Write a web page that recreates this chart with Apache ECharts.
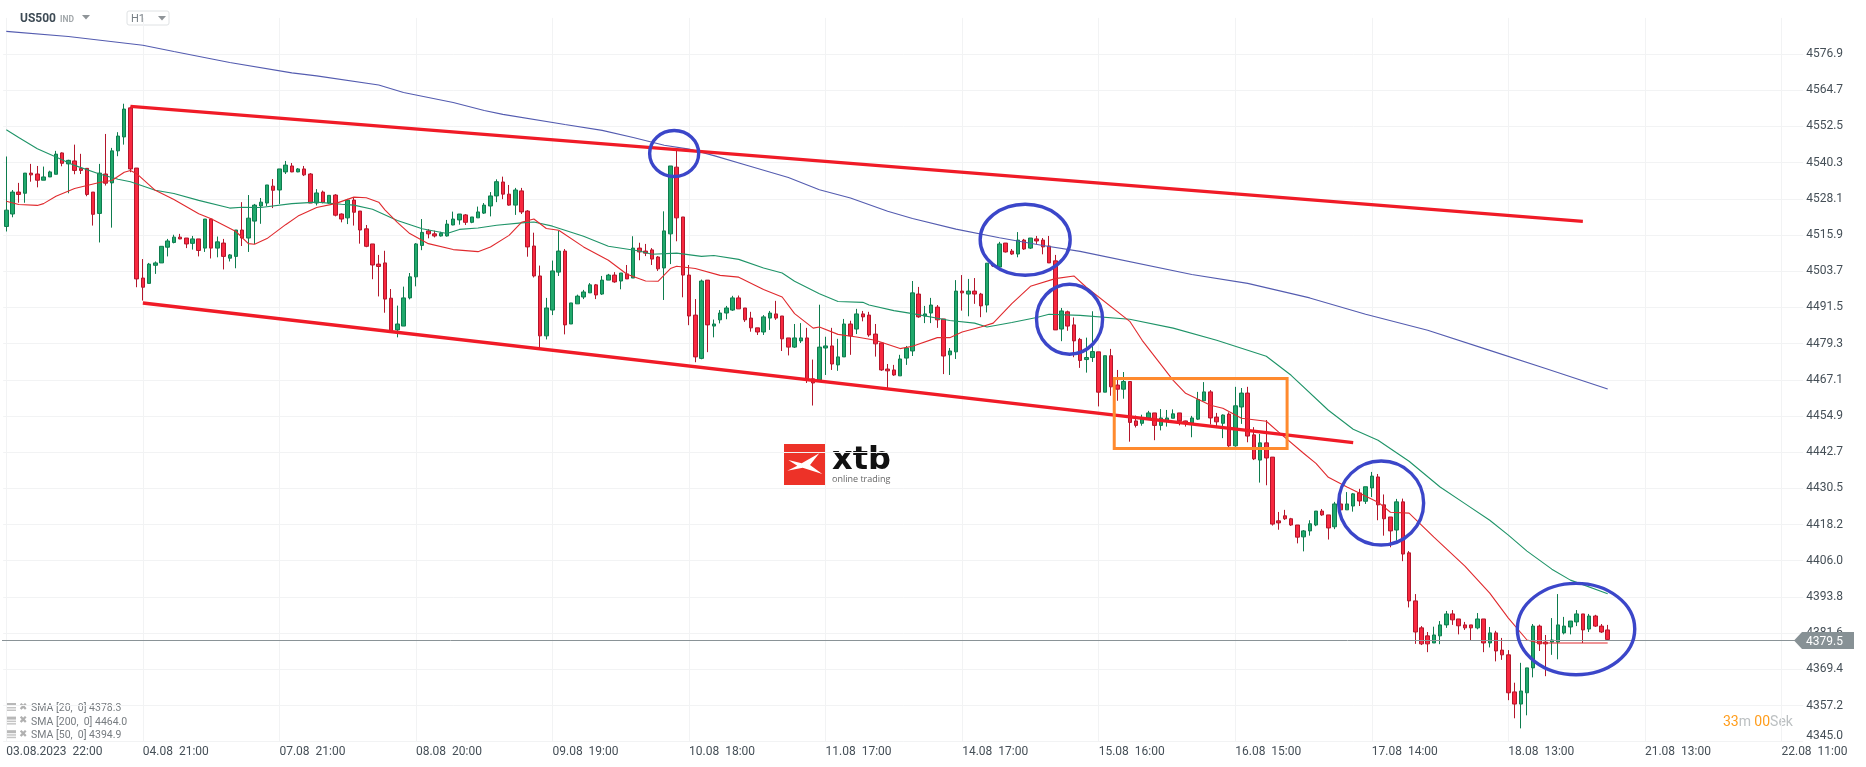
<!DOCTYPE html>
<html><head><meta charset="utf-8">
<style>html,body{margin:0;padding:0;background:#fff;overflow:hidden}#c{width:1866px;height:767px}</style>
<script src="https://cdn.jsdelivr.net/npm/echarts@6/dist/echarts.min.js"></script>
</head><body><div id="c"></div>
<script>
const tickLabels=['03.08.2023  22:00','04.08  21:00','07.08  21:00','08.08  20:00','09.08  19:00','10.08  18:00','11.08  17:00','14.08  17:00','15.08  16:00','16.08  15:00','17.08  14:00','18.08  13:00','21.08  13:00','22.08  11:00'];
// [open, close, high, low]
const candles=[
[4518.8,4524.3,4542.4,4517.1],[4523.0,4530.4,4531.1,4521.9],[4530.4,4529.6,4533.5,4526.8],[4530.0,4536.8,4536.8,4526.8],[4536.8,4536.2,4539.9,4533.9],
[4536.5,4534.4,4539.2,4532.0],[4534.4,4535.5,4539.0,4534.4],[4535.5,4537.2,4537.6,4535.5],[4536.4,4543.2,4544.3,4536.4],[4543.6,4540.1,4543.8,4539.1],
[4539.9,4541.1,4541.3,4530.0],[4540.9,4537.7,4546.4,4536.4],[4538.4,4537.7,4543.3,4536.5],[4538.4,4529.6,4538.4,4529.0],[4530.4,4522.9,4530.4,4519.1],
[4523.2,4536.8,4539.9,4513.4],[4536.5,4533.4,4550.0,4532.6],[4533.5,4544.3,4545.3,4518.4],[4544.3,4549.3,4550.6,4542.5],[4549.0,4558.4,4560.2,4546.4],
[4558.8,4538.2,4559.2,4537.1],[4538.5,4501.1,4538.5,4498.3],[4501.4,4498.3,4507.8,4493.8],[4499.6,4506.1,4506.5,4499.6],[4505.7,4506.5,4507.0,4502.8],
[4506.5,4512.1,4512.1,4506.5],[4511.8,4513.9,4514.6,4508.7],[4513.4,4515.2,4516.0,4513.1],[4515.2,4514.6,4516.3,4514.5],[4514.9,4512.9,4514.9,4511.5],
[4513.1,4514.6,4515.6,4511.0],[4514.6,4510.7,4514.6,4508.7],[4511.5,4521.3,4521.3,4510.2],[4521.3,4511.5,4521.6,4508.0],[4511.5,4513.6,4515.4,4508.4],
[4513.2,4508.7,4514.6,4504.3],[4508.1,4509.2,4509.5,4507.0],[4508.7,4517.6,4517.6,4504.7],[4517.6,4514.9,4527.0,4512.2],[4514.9,4521.6,4529.4,4510.2],
[4520.6,4526.0,4526.4,4512.9],[4525.7,4527.0,4528.4,4519.7],[4526.7,4532.8,4532.8,4525.7],[4532.4,4531.0,4534.8,4525.0],[4531.1,4538.2,4538.2,4526.4],
[4537.2,4539.5,4540.9,4536.5],[4539.2,4537.2,4540.2,4537.1],[4537.2,4538.2,4538.5,4537.1],[4538.2,4536.2,4539.2,4535.8],[4536.5,4526.7,4536.8,4526.7],
[4526.7,4530.1,4531.4,4525.9],[4530.4,4526.9,4530.9,4526.6],[4526.7,4529.3,4529.3,4526.4],[4529.4,4522.6,4529.7,4522.2],[4523.0,4521.3,4523.2,4520.2],
[4521.7,4527.7,4528.1,4519.6],[4527.7,4523.6,4528.4,4519.1],[4524.0,4517.6,4524.0,4513.0],[4518.0,4512.1,4519.3,4511.8],[4512.9,4505.8,4512.9,4501.0],
[4506.1,4505.3,4509.2,4495.2],[4506.5,4494.3,4510.6,4489.7],[4494.6,4483.7,4497.7,4482.9],[4483.9,4485.9,4492.1,4481.4],[4485.2,4494.7,4498.5,4485.2],
[4494.7,4501.8,4503.1,4494.2],[4501.8,4512.9,4513.2,4498.6],[4512.4,4516.8,4521.3,4510.8],[4517.3,4516.3,4517.9,4514.8],[4516.3,4515.6,4517.4,4515.1],
[4515.6,4516.5,4517.0,4515.4],[4515.6,4519.6,4521.0,4515.4],[4519.3,4521.3,4523.8,4519.2],[4521.0,4523.0,4523.0,4519.4],[4522.7,4520.2,4523.0,4519.3],
[4520.2,4522.0,4522.0,4519.9],[4521.7,4523.7,4525.5,4521.7],[4523.3,4526.0,4526.7,4523.0],[4525.7,4529.1,4530.4,4522.2],[4529.1,4533.9,4534.7,4527.0],
[4533.8,4529.7,4535.6,4528.0],[4529.7,4526.0,4532.8,4525.8],[4526.0,4531.1,4531.8,4522.7],[4530.8,4523.7,4531.8,4523.0],[4524.0,4511.9,4524.3,4508.6],
[4512.2,4502.1,4516.7,4501.6],[4502.1,4481.9,4505.6,4477.5],[4481.9,4491.3,4494.7,4480.7],[4490.6,4503.8,4507.3,4488.9],[4503.4,4510.5,4517.3,4502.1],
[4510.5,4485.6,4511.2,4482.4],[4485.9,4493.0,4493.0,4485.9],[4492.7,4495.3,4495.8,4492.7],[4495.0,4496.7,4497.4,4494.3],[4496.4,4499.1,4499.7,4496.4],
[4499.1,4495.7,4499.4,4494.3],[4496.0,4500.7,4502.1,4495.7],[4500.7,4502.4,4502.8,4500.7],[4502.4,4500.1,4503.4,4499.8],[4500.4,4503.1,4503.1,4497.6],
[4502.8,4501.1,4505.8,4501.1],[4501.4,4511.5,4515.5,4501.4],[4511.5,4510.2,4513.3,4507.4],[4510.5,4509.8,4512.9,4508.8],[4510.9,4507.8,4511.5,4505.8],
[4508.5,4504.5,4508.8,4503.8],[4504.8,4517.3,4523.9,4494.0],[4516.3,4539.2,4539.2,4506.1],[4538.8,4521.7,4544.4,4513.8],[4522.0,4502.4,4522.0,4494.9],
[4502.4,4488.6,4505.8,4485.5],[4488.9,4474.8,4494.3,4473.0],[4474.3,4500.4,4500.9,4474.0],[4500.7,4485.6,4500.7,4476.4],[4485.2,4485.9,4487.4,4481.4],
[4487.3,4489.6,4490.6,4486.1],[4489.6,4491.3,4492.0,4487.5],[4490.6,4494.7,4495.4,4490.3],[4494.7,4491.0,4495.5,4491.0],[4491.3,4487.3,4491.3,4486.6],
[4487.9,4484.6,4490.0,4483.3],[4484.6,4483.2,4484.6,4482.2],[4483.2,4488.3,4488.9,4482.2],[4487.9,4489.6,4490.3,4483.9],[4489.3,4487.9,4493.7,4487.3],
[4488.6,4480.9,4488.6,4476.8],[4481.2,4478.1,4481.2,4475.3],[4478.1,4481.2,4485.9,4477.8],[4480.2,4481.2,4486.2,4479.5],[4481.2,4467.4,4484.6,4466.0],
[4467.4,4466.0,4473.9,4458.4],[4467.0,4478.1,4492.4,4467.0],[4477.8,4478.5,4481.6,4468.7],[4478.5,4472.4,4484.6,4470.4],[4472.1,4474.8,4480.9,4470.1],
[4474.8,4485.9,4487.6,4474.8],[4485.9,4481.9,4487.0,4475.5],[4484.2,4489.3,4491.0,4482.5],[4489.3,4488.3,4490.3,4486.8],[4488.9,4482.2,4490.0,4481.6],
[4482.5,4479.2,4485.9,4474.9],[4479.5,4470.4,4479.5,4470.1],[4470.7,4470.1,4472.4,4464.0],[4470.4,4468.7,4472.1,4468.4],[4468.4,4474.1,4475.5,4468.4],
[4474.4,4477.8,4478.5,4472.1],[4476.8,4496.4,4500.4,4475.1],[4496.0,4488.3,4498.4,4488.0],[4488.6,4489.3,4492.0,4486.2],[4489.6,4492.3,4494.7,4486.2],
[4491.6,4487.3,4492.3,4484.6],[4487.6,4475.1,4487.6,4469.0],[4475.5,4476.8,4477.8,4468.7],[4476.5,4497.0,4500.7,4474.1],[4497.0,4496.4,4502.4,4490.4],
[4496.0,4497.0,4501.1,4488.5],[4497.0,4496.0,4501.4,4492.7],[4496.0,4492.0,4496.4,4488.2],[4492.3,4506.4,4506.4,4489.8],[4506.1,4505.5,4506.7,4505.2],
[4505.1,4512.9,4513.6,4505.1],[4513.2,4510.2,4513.2,4510.0],[4510.5,4509.5,4511.2,4509.2],[4509.5,4514.2,4516.9,4508.4],[4514.2,4511.2,4514.6,4510.9],
[4511.5,4514.9,4514.9,4511.2],[4514.6,4513.9,4515.6,4512.9],[4514.2,4511.9,4514.9,4509.4],[4512.2,4506.5,4515.6,4506.5],[4507.2,4483.9,4509.2,4483.9],
[4484.2,4490.3,4491.3,4480.1],[4490.0,4485.2,4490.4,4483.6],[4485.6,4480.2,4488.1,4474.7],[4480.7,4473.6,4481.2,4471.1],[4473.9,4474.6,4481.3,4469.5],
[4474.6,4476.6,4490.2,4473.1],[4476.5,4462.9,4476.5,4458.1],[4462.9,4475.2,4475.2,4462.9],[4475.2,4464.7,4477.5,4461.7],[4465.3,4463.9,4470.4,4460.0],
[4463.9,4466.5,4469.7,4460.7],[4466.5,4452.7,4466.5,4446.2],[4453.2,4451.7,4455.0,4451.0],[4452.4,4454.2,4455.3,4451.6],[4454.2,4455.9,4456.6,4454.2],
[4455.9,4451.7,4455.9,4446.7],[4451.7,4454.2,4457.2,4450.0],[4453.3,4454.2,4456.9,4451.3],[4454.1,4455.6,4457.1,4454.1],[4455.9,4453.2,4455.9,4451.7],
[4453.2,4452.5,4453.3,4451.3],[4452.5,4454.2,4454.9,4447.7],[4453.8,4460.4,4463.0,4453.5],[4460.0,4463.0,4466.3,4460.0],[4463.0,4454.2,4463.6,4452.0],
[4454.5,4452.9,4455.9,4450.8],[4452.4,4455.2,4455.4,4447.4],[4455.5,4444.8,4456.1,4444.3],[4444.8,4458.3,4464.7,4444.5],[4457.9,4462.6,4464.3,4452.2],
[4462.6,4448.1,4464.7,4446.0],[4448.5,4440.4,4451.1,4440.0],[4440.0,4445.8,4448.8,4432.4],[4445.8,4440.7,4453.5,4431.5],[4441.0,4418.4,4441.0,4417.9],
[4419.5,4418.8,4422.5,4416.5],[4421.2,4420.2,4423.2,4419.8],[4420.2,4418.1,4420.5,4417.8],[4418.1,4414.0,4418.1,4411.9],[4414.1,4416.1,4416.4,4409.2],
[4416.1,4418.5,4419.7,4414.5],[4418.1,4422.8,4422.8,4417.7],[4422.8,4421.5,4423.5,4421.2],[4421.5,4417.1,4421.5,4413.2],[4417.5,4425.2,4425.9,4416.7],
[4425.2,4423.2,4430.3,4422.8],[4423.2,4425.2,4429.2,4423.2],[4424.5,4428.6,4428.9,4422.6],[4428.9,4426.2,4430.3,4424.5],[4426.1,4431.0,4431.0,4425.2],
[4430.6,4434.6,4436.0,4427.5],[4434.3,4424.9,4435.3,4419.7],[4424.9,4420.2,4428.4,4414.5],[4420.8,4416.1,4420.8,4410.6],[4416.4,4425.9,4426.9,4412.8],
[4425.9,4408.3,4427.0,4405.9],[4408.7,4392.5,4409.3,4390.3],[4392.5,4382.0,4394.8,4378.0],[4383.4,4378.0,4384.0,4377.6],[4380.7,4378.0,4382.0,4375.2],
[4378.3,4381.0,4383.8,4378.3],[4380.7,4384.4,4385.7,4377.9],[4384.4,4388.1,4389.1,4383.4],[4388.1,4386.1,4389.4,4384.4],[4386.4,4384.1,4386.4,4381.2],
[4384.4,4383.4,4385.4,4382.7],[4384.4,4383.4,4384.4,4379.1],[4383.4,4386.4,4388.4,4382.9],[4386.4,4378.3,4386.4,4375.2],[4378.3,4381.7,4383.7,4376.8],
[4381.7,4375.6,4382.4,4372.1],[4375.9,4374.3,4380.0,4372.6],[4374.3,4361.5,4375.9,4359.0],[4361.8,4357.7,4364.9,4352.9],[4357.7,4362.1,4371.6,4349.5],
[4361.5,4369.9,4369.9,4353.9],[4369.9,4384.0,4384.7,4366.7],[4384.0,4378.0,4384.5,4375.6],[4378.6,4378.0,4381.0,4367.1],[4378.6,4379.3,4386.7,4374.3],
[4378.6,4384.4,4394.8,4372.8],[4381.7,4384.0,4387.1,4381.2],[4383.7,4385.7,4385.7,4381.2],[4385.4,4388.1,4389.4,4384.0],[4388.1,4382.7,4388.1,4378.3],
[4383.0,4387.4,4388.1,4382.0],[4387.4,4384.0,4387.8,4383.7],[4384.0,4382.0,4384.7,4381.7],[4382.7,4379.5,4384.4,4379.0]
];
const sma200=[[0,4584.6],[10,4582.9],[22,4579.9],[27,4577.8],[36,4574.1],[46,4570.6],[50,4569.6],[60,4566.5],[64,4564.0],[72,4560.6],[77,4557.9],[80,4556.6],[90,4553.2],[96,4551.2],[101,4548.8],[106,4546.2],[110,4544.9],[114,4542.7],[119,4539.6],[126,4535.3],[131,4531.2],[136,4528.4],[142,4523.9],[146,4521.5],[153,4517.9],[160,4515.0],[167,4512.4],[173,4510.4],[191,4502.6],[200,4499.6],[210,4494.7],[219,4489.2],[229,4483.8],[239,4477.0],[248,4470.9],[258,4464.0]];
const sma50=[[0,4551.4],[2,4548.8],[5,4545.0],[8,4542.2],[11,4539.4],[15,4536.5],[18,4534.7],[20,4533.9],[24,4531.0],[27,4529.9],[31,4527.6],[36,4525.0],[38,4525.3],[41,4525.2],[46,4526.5],[50,4527.0],[54,4526.3],[56,4526.0],[59,4524.6],[63,4520.8],[67,4518.0],[71,4516.4],[73,4517.8],[76,4518.3],[79,4519.2],[83,4520.0],[85,4520.3],[88,4518.9],[93,4515.5],[97,4512.1],[102,4510.5],[104,4509.4],[108,4509.8],[112,4508.7],[114,4509.0],[118,4507.7],[122,4504.8],[125,4503.1],[127,4500.3],[131,4496.1],[134,4493.5],[138,4493.2],[139,4492.3],[143,4490.4],[146,4489.4],[152,4487.1],[156,4486.2],[158,4484.9],[162,4486.4],[166,4488.1],[168,4489.2],[173,4488.8],[181,4487.5],[188,4484.5],[195,4480.4],[199,4477.7],[203,4475.0],[207,4468.6],[213,4456.8],[217,4450.4],[221,4446.7],[226,4439.6],[231,4430.9],[235,4425.3],[239,4419.7],[242,4414.7],[245,4409.3],[249,4403.2],[252,4399.5],[258,4394.9]];
const sma20=[[0,4527.3],[2,4526.2],[5,4525.9],[6,4526.5],[8,4529.0],[11,4531.6],[15,4533.6],[17,4534.3],[19,4537.1],[20,4537.7],[21,4536.6],[24,4531.0],[27,4527.9],[31,4523.1],[33,4521.4],[37,4517.1],[39,4513.0],[40,4512.8],[42,4514.7],[45,4519.4],[47,4522.3],[50,4525.2],[53,4526.5],[56,4528.7],[58,4528.5],[60,4527.0],[61,4524.4],[63,4520.2],[65,4516.4],[68,4513.0],[72,4511.0],[76,4510.3],[78,4511.9],[81,4515.8],[83,4520.2],[85,4521.3],[87,4518.1],[89,4517.5],[93,4511.9],[97,4507.4],[100,4502.7],[103,4500.4],[105,4500.3],[107,4504.6],[108,4505.4],[111,4504.6],[115,4502.3],[118,4501.7],[122,4497.5],[125,4495.0],[127,4489.4],[130,4484.5],[131,4484.9],[134,4482.4],[137,4481.5],[140,4480.4],[144,4477.6],[146,4478.4],[150,4481.3],[152,4481.3],[154,4483.2],[157,4484.9],[159,4486.2],[162,4492.8],[165,4498.6],[169,4501.2],[172,4502.1],[174,4498.3],[181,4486.8],[183,4480.4],[188,4466.9],[190,4462.5],[194,4458.5],[196,4457.5],[199,4454.1],[203,4453.1],[205,4449.4],[209,4442.3],[211,4438.9],[213,4434.2],[216,4430.9],[221,4425.8],[223,4422.4],[226,4422.1],[230,4414.0],[235,4404.2],[239,4395.1],[242,4386.7],[245,4379.3],[247,4378.3],[251,4378.3],[258,4378.3]];
const upperChannel=[[20,4559.3],[254,4520.5]];
const lowerChannel=[[22,4493.0],[217,4445.9]];
// centre bar index, centre price, x radius in bars, y radius in price
const ellipses=[[107.6,4543.4,3.95,7.75],[164.15,4514.3,7.25,11.97],[171.3,4487.5,5.32,11.8],[221.5,4425.5,6.85,14.16],[252.9,4383,9.46,15.4]];
// from bar, to bar, top price, bottom price
const boxes=[[178.5,206.35,4467.5,4443.9]];
const lastPrice=[4379.5];
const legendRows=['SMA [20,  0] 4378.3','SMA [200,  0] 4464.0','SMA [50,  0] 4394.9'];
const yMin=4345,yStep=12.2075,ySteps=20,slotCount=290,labelEvery=22;

const categories=Array.from({length:slotCount},(_,i)=>i%labelEvery===0?(tickLabels[i/labelEvery]||''):'');
const chart=echarts.init(document.getElementById('c'),null,{renderer:'canvas'});
function pos(api,fi,p){const b=Math.floor(fi);const pt=api.coord([b,p]);pt[0]+=(fi-b)*api.size([1,0])[0];return pt;}
const BLUE='#3b46c9',GRID='#f2f3f4';
const textCol='#454f57';
const legendGraphics=[];
legendRows.forEach((t,i)=>{const y=708+i*13.6;
 legendGraphics.push({type:'rect',shape:{x:6,y:y-5,width:10,height:3},style:{fill:'#b8b8b8'},silent:true});
 legendGraphics.push({type:'rect',shape:{x:6,y:y-1,width:10,height:1.5},style:{fill:'#c4c4c4'},silent:true});
 legendGraphics.push({type:'rect',shape:{x:6,y:y+1.5,width:10,height:1.5},style:{fill:'#c4c4c4'},silent:true});
 legendGraphics.push({type:'text',style:{x:19,y:y-1,text:'✖',fill:'#b0b0b0',font:'10px "DejaVu Sans"',verticalAlign:'middle'},silent:true});
 legendGraphics.push({type:'text',style:{x:31,y:y+0.5,text:t,fill:'#777c80',font:'10.5px Roboto',verticalAlign:'middle'},silent:true});
});
chart.setOption({
 animation:false,backgroundColor:'#fff',
 textStyle:{fontFamily:'Roboto'},
 grid:{left:3.2,top:17.9,width:1800,height:723.8,containLabel:false},
 xAxis:{type:'category',data:categories,boundaryGap:true,
  axisLine:{show:false},axisTick:{show:false},
  axisLabel:{interval:labelEvery-1,align:'left',margin:4,fontSize:12,color:textCol,fontFamily:'Roboto',hideOverlap:false},
  splitLine:{show:true,interval:labelEvery-1,alignWithLabel:true,lineStyle:{color:GRID,width:1}}},
 yAxis:{type:'value',position:'right',min:yMin,max:yMin+yStep*ySteps,interval:yStep,scale:true,
  axisLine:{show:false},axisTick:{show:false},
  axisLabel:{margin:3,fontSize:12,color:textCol,fontFamily:'Roboto',padding:[7,0,0,0],showMaxLabel:false,verticalAlignMinLabel:'bottom',formatter:v=>v.toFixed(1)},
  splitLine:{show:true,showMaxLine:false,lineStyle:{color:GRID,width:1}}},
 series:[
  {type:'candlestick',name:'US500',data:candles.map(c=>[c[0],c[1],c[3],c[2]]),barWidth:4,z:2,progressive:0,
   itemStyle:{color:'#20a96c',color0:'#f8283f',borderColor:'#0e7c4e',borderColor0:'#b3162b',borderWidth:1}},
  {type:'line',name:'SMA200',data:sma200,showSymbol:false,z:3,lineStyle:{color:'#545cb0',width:1.1}},
  {type:'line',name:'SMA50',data:sma50,showSymbol:false,z:3,lineStyle:{color:'#1f9468',width:1.1}},
  {type:'line',name:'SMA20',data:sma20,showSymbol:false,z:3,lineStyle:{color:'#e02a2e',width:1.1}},
  {type:'custom',name:'price',data:lastPrice.map(v=>[0,v]),encode:{x:0,y:1},clip:false,z:4,silent:true,
   renderItem:(params,api)=>{const y=api.coord([0,api.value(1)])[1];const yy=Math.ceil(y)+0.5;
    return {type:'group',children:[
     {type:'line',shape:{x1:2,y1:yy,x2:1796,y2:yy},style:{stroke:'#8a9397',lineWidth:1}},
     {type:'polygon',shape:{points:[[1794,yy],[1802,yy-8.5],[1854,yy-8.5],[1854,yy+8.5],[1802,yy+8.5]]},style:{fill:'#879195'}},
     {type:'text',style:{x:1806,y:yy+1,text:String(lastPrice[0]),fill:'#fff',font:'12px Roboto',verticalAlign:'middle'}}
    ]};}},
  {type:'line',name:'upper',data:upperChannel,showSymbol:false,z:5,lineStyle:{color:'#f01b27',width:3.4}},
  {type:'line',name:'lower',data:lowerChannel,showSymbol:false,z:5,lineStyle:{color:'#f01b27',width:3.4}},
  {type:'custom',name:'circles',data:ellipses,encode:{x:0,y:1},clip:false,z:6,silent:true,
   renderItem:(params,api)=>{const e=ellipses[params.dataIndex];const c=pos(api,e[0],e[1]);const band=api.size([1,0])[0];
    const ry=Math.abs(api.coord([0,e[1]+e[3]])[1]-c[1]);
    return {type:'ellipse',shape:{cx:c[0],cy:c[1],rx:e[2]*band,ry:ry},style:{fill:null,stroke:BLUE,lineWidth:3.4}};}},
  {type:'custom',name:'box',data:boxes,encode:{x:0,y:2},clip:false,z:6,silent:true,
   renderItem:(params,api)=>{const b=boxes[params.dataIndex];const a=pos(api,b[0],b[2]),d=pos(api,b[1],b[3]);
    return {type:'rect',shape:{x:a[0],y:a[1],width:d[0]-a[0],height:d[1]-a[1]},style:{fill:null,stroke:'#ff8a2e',lineWidth:3}};}}
 ],
 graphic:[
  {type:'text',style:{x:20,y:19,text:'US500',fill:'#3e4b55',font:'bold 12px Roboto',verticalAlign:'middle'},silent:true},
  {type:'text',style:{x:60,y:19.5,text:'IND',fill:'#a3a8ab',font:'bold 8.5px Roboto',verticalAlign:'middle'},silent:true},
  {type:'polygon',shape:{points:[[82,15],[90,15],[86,19.5]]},style:{fill:'#8f9498'},silent:true},
  {type:'rect',shape:{x:127,y:11,width:42,height:14,r:2},style:{fill:'#fff',stroke:'#dfe2e4',lineWidth:1},silent:true},
  {type:'text',style:{x:131,y:19.5,text:'H1',fill:'#777f85',font:'11px Roboto',verticalAlign:'middle'},silent:true},
  {type:'polygon',shape:{points:[[158,16],[166,16],[162,20.5]]},style:{fill:'#8f9498'},silent:true},
  {type:'rect',shape:{x:784,y:444,width:41,height:41},style:{fill:'#ed3228'},silent:true},
  {type:'polygon',shape:{points:[[788.3,460],[801.7,463.3],[819.3,453.3],[810,465],[822.3,474],[802.7,467.7],[787.3,470.7],[797.3,465.7]]},style:{fill:'#fff'},silent:true},
  {type:'text',style:{x:832,y:461,text:'xtb',fill:'#111',font:'bold 32px "DejaVu Sans"',verticalAlign:'middle'},silent:true},
  {type:'text',style:{x:832,y:479,text:'online trading',fill:'#666',font:'9px "Open Sans"',verticalAlign:'middle'},silent:true},
  {type:'text',style:{x:1723,y:722,text:'{a|33}{b|m} {a|00}{b|Sek}',rich:{a:{fill:'#ff9d1c',fontSize:14,fontFamily:'Roboto'},b:{fill:'#bcc0c2',fontSize:14,fontFamily:'Roboto'}},verticalAlign:'middle'},silent:true},
  ...legendGraphics
 ]
});
</script></body></html>
